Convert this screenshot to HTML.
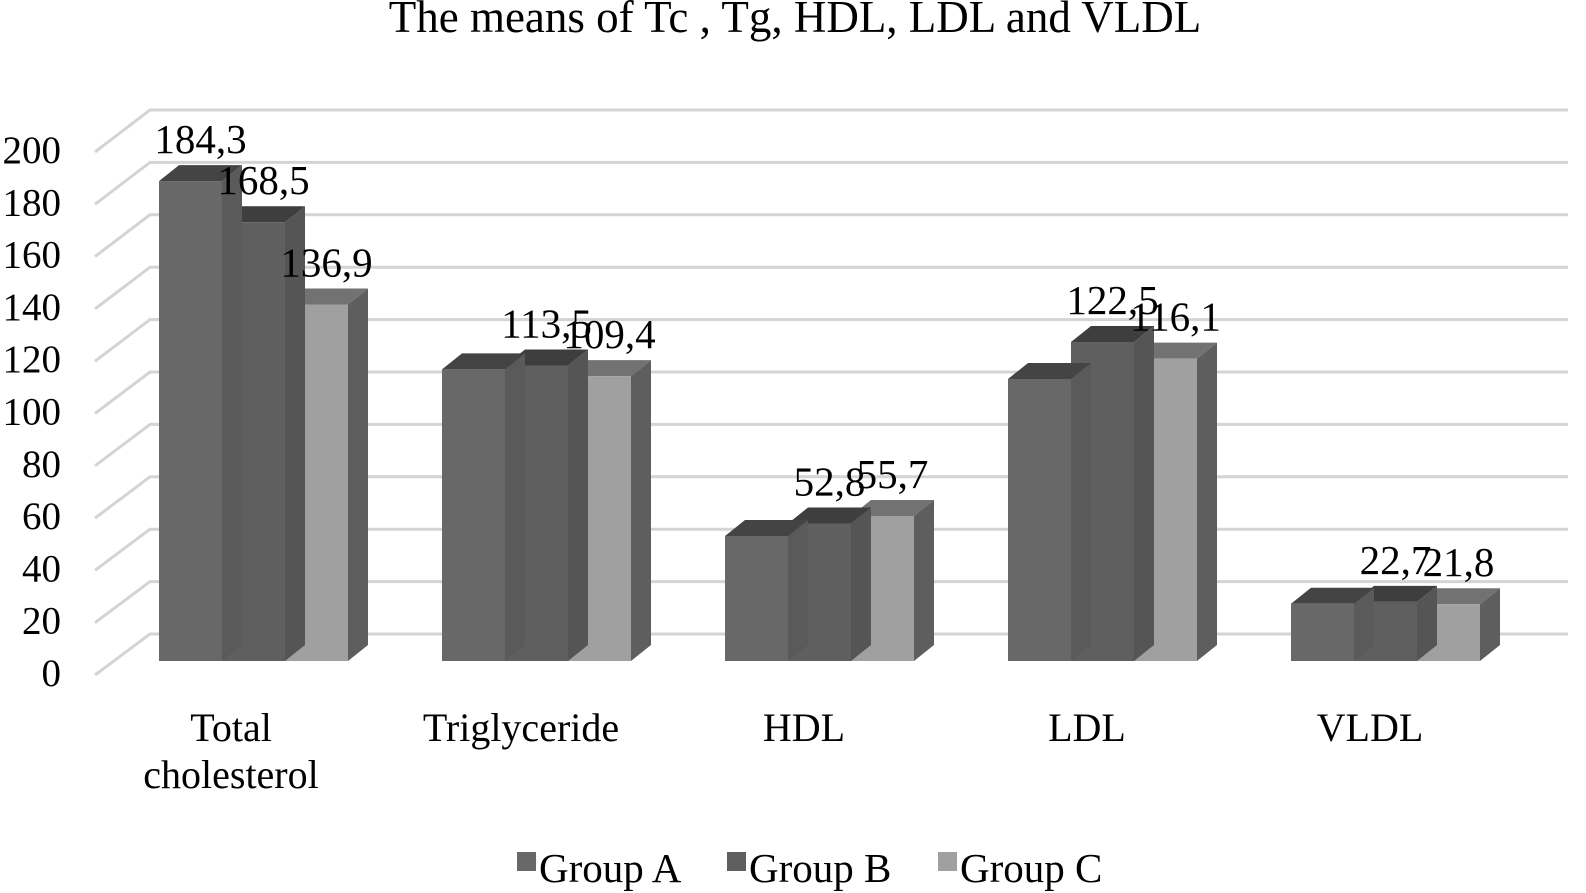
<!DOCTYPE html>
<html><head><meta charset="utf-8"><style>
body{margin:0;background:#fff}
svg{display:block;font-family:"Liberation Serif",serif}
</style></head><body>
<svg id="chart" width="1586" height="893">
<text x="795" y="32" font-size="45" text-anchor="middle">The means of Tc , Tg, HDL, LDL and VLDL</text>
<g id="grid"></g>
<g id="yticks"></g>
<g id="bars"></g>
<g id="xlabels"></g>
<g id="legend"></g>
</svg>
<script>
const categories = [["Total","cholesterol"],["Triglyceride"],["HDL"],["LDL"],["VLDL"]];
const groupA = [184.3, 112, 48, 108.3, 22];
const groupB = [168.5, 113.5, 52.8, 122.5, 22.7];
const groupC = [136.9, 109.4, 55.7, 116.1, 21.8];
const labelsA = ["184,3", null, null, null, null];
const labelsB = ["168,5", "113,5", "52,8", "122,5", "22,7"];
const labelsC = ["136,9", "109,4", "55,7", "116,1", "21,8"];
const yTicks = [0,20,40,60,80,100,120,140,160,180,200];
const seriesNames = ["Group A","Group B","Group C"];

const NS="http://www.w3.org/2000/svg";
function mk(tag, attrs, parent){const e=document.createElementNS(NS,tag);for(const k in attrs)e.setAttribute(k,attrs[k]);parent.appendChild(e);return e;}
const yFront = v => 661 - v*2.604;
const yBack = v => 634 - v*2.62;
const yLeft = v => 675 - v*2.615;
const catX = i => 159 + i*283;
const BW=63, DX=20, DY=16;
const faceCol=["#686868","#5f5f5f","#a0a0a0"], topCol=["#444444","#3e3e3e","#727272"], sideCol=["#5a5a5a","#555555","#5e5e5e"];

const grid=document.getElementById('grid'), yt=document.getElementById('yticks');
yTicks.forEach(v=>{
  const l=mk('polyline',{points:`95,${yLeft(v)} 150,${yBack(v)} 1568,${yBack(v)}`,fill:'none',stroke:'#d4d4d4','stroke-width':3},grid);
  
  
  const t=mk('text',{x:61,y:yLeft(v)+11,'font-size':39,'text-anchor':'end'},yt);
  t.textContent=v;
  
  
});

const bars=document.getElementById('bars');
const series=[groupA,groupB,groupC], labels=[labelsA,labelsB,labelsC];
const labelLayer=[];
categories.forEach((c,i)=>{
  for(let s=2;s>=0;s--){
    const x=catX(i)+s*BW, y=yFront(series[s][i]), b=yFront(0);
    const g=mk('g',{},bars);
    
    
    mk('polygon',{points:`${x+BW},${y} ${x+BW+DX},${y-DY} ${x+BW+DX},${b-DY} ${x+BW},${b}`,fill:sideCol[s]},g);
    mk('polygon',{points:`${x},${y} ${x+DX},${y-DY} ${x+BW+DX},${y-DY} ${x+BW},${y}`,fill:topCol[s]},g);
    mk('rect',{x:x,y:y,width:BW,height:b-y,fill:faceCol[s]},g);
    if(labels[s][i]) labelLayer.push([x+BW/2+DX/2, y-DY-12, labels[s][i]]);
  }
});
labelLayer.forEach(L=>{
  const t=mk('text',{x:L[0],y:L[1],'font-size':41,'text-anchor':'middle'},bars);
  t.textContent=L[2];
  
  
});

const xl=document.getElementById('xlabels');
categories.forEach((c,i)=>{
  c.forEach((line,j)=>{
    const t=mk('text',{x:catX(i)+(i===0?72:79),y:741+j*47,'font-size':40,'text-anchor':'middle'},xl);
    t.textContent=line;
    
    
  });
});

const lg=document.getElementById('legend');
const lx=[517,727,938];
seriesNames.forEach((n,s)=>{
  const r=mk('rect',{x:lx[s],y:852,width:19,height:19,fill:faceCol[s]},lg);
  
  
  const t=mk('text',{x:lx[s]+22,y:882,'font-size':41},lg);
  t.textContent=n;
  
  
});
</script>
</body></html>
